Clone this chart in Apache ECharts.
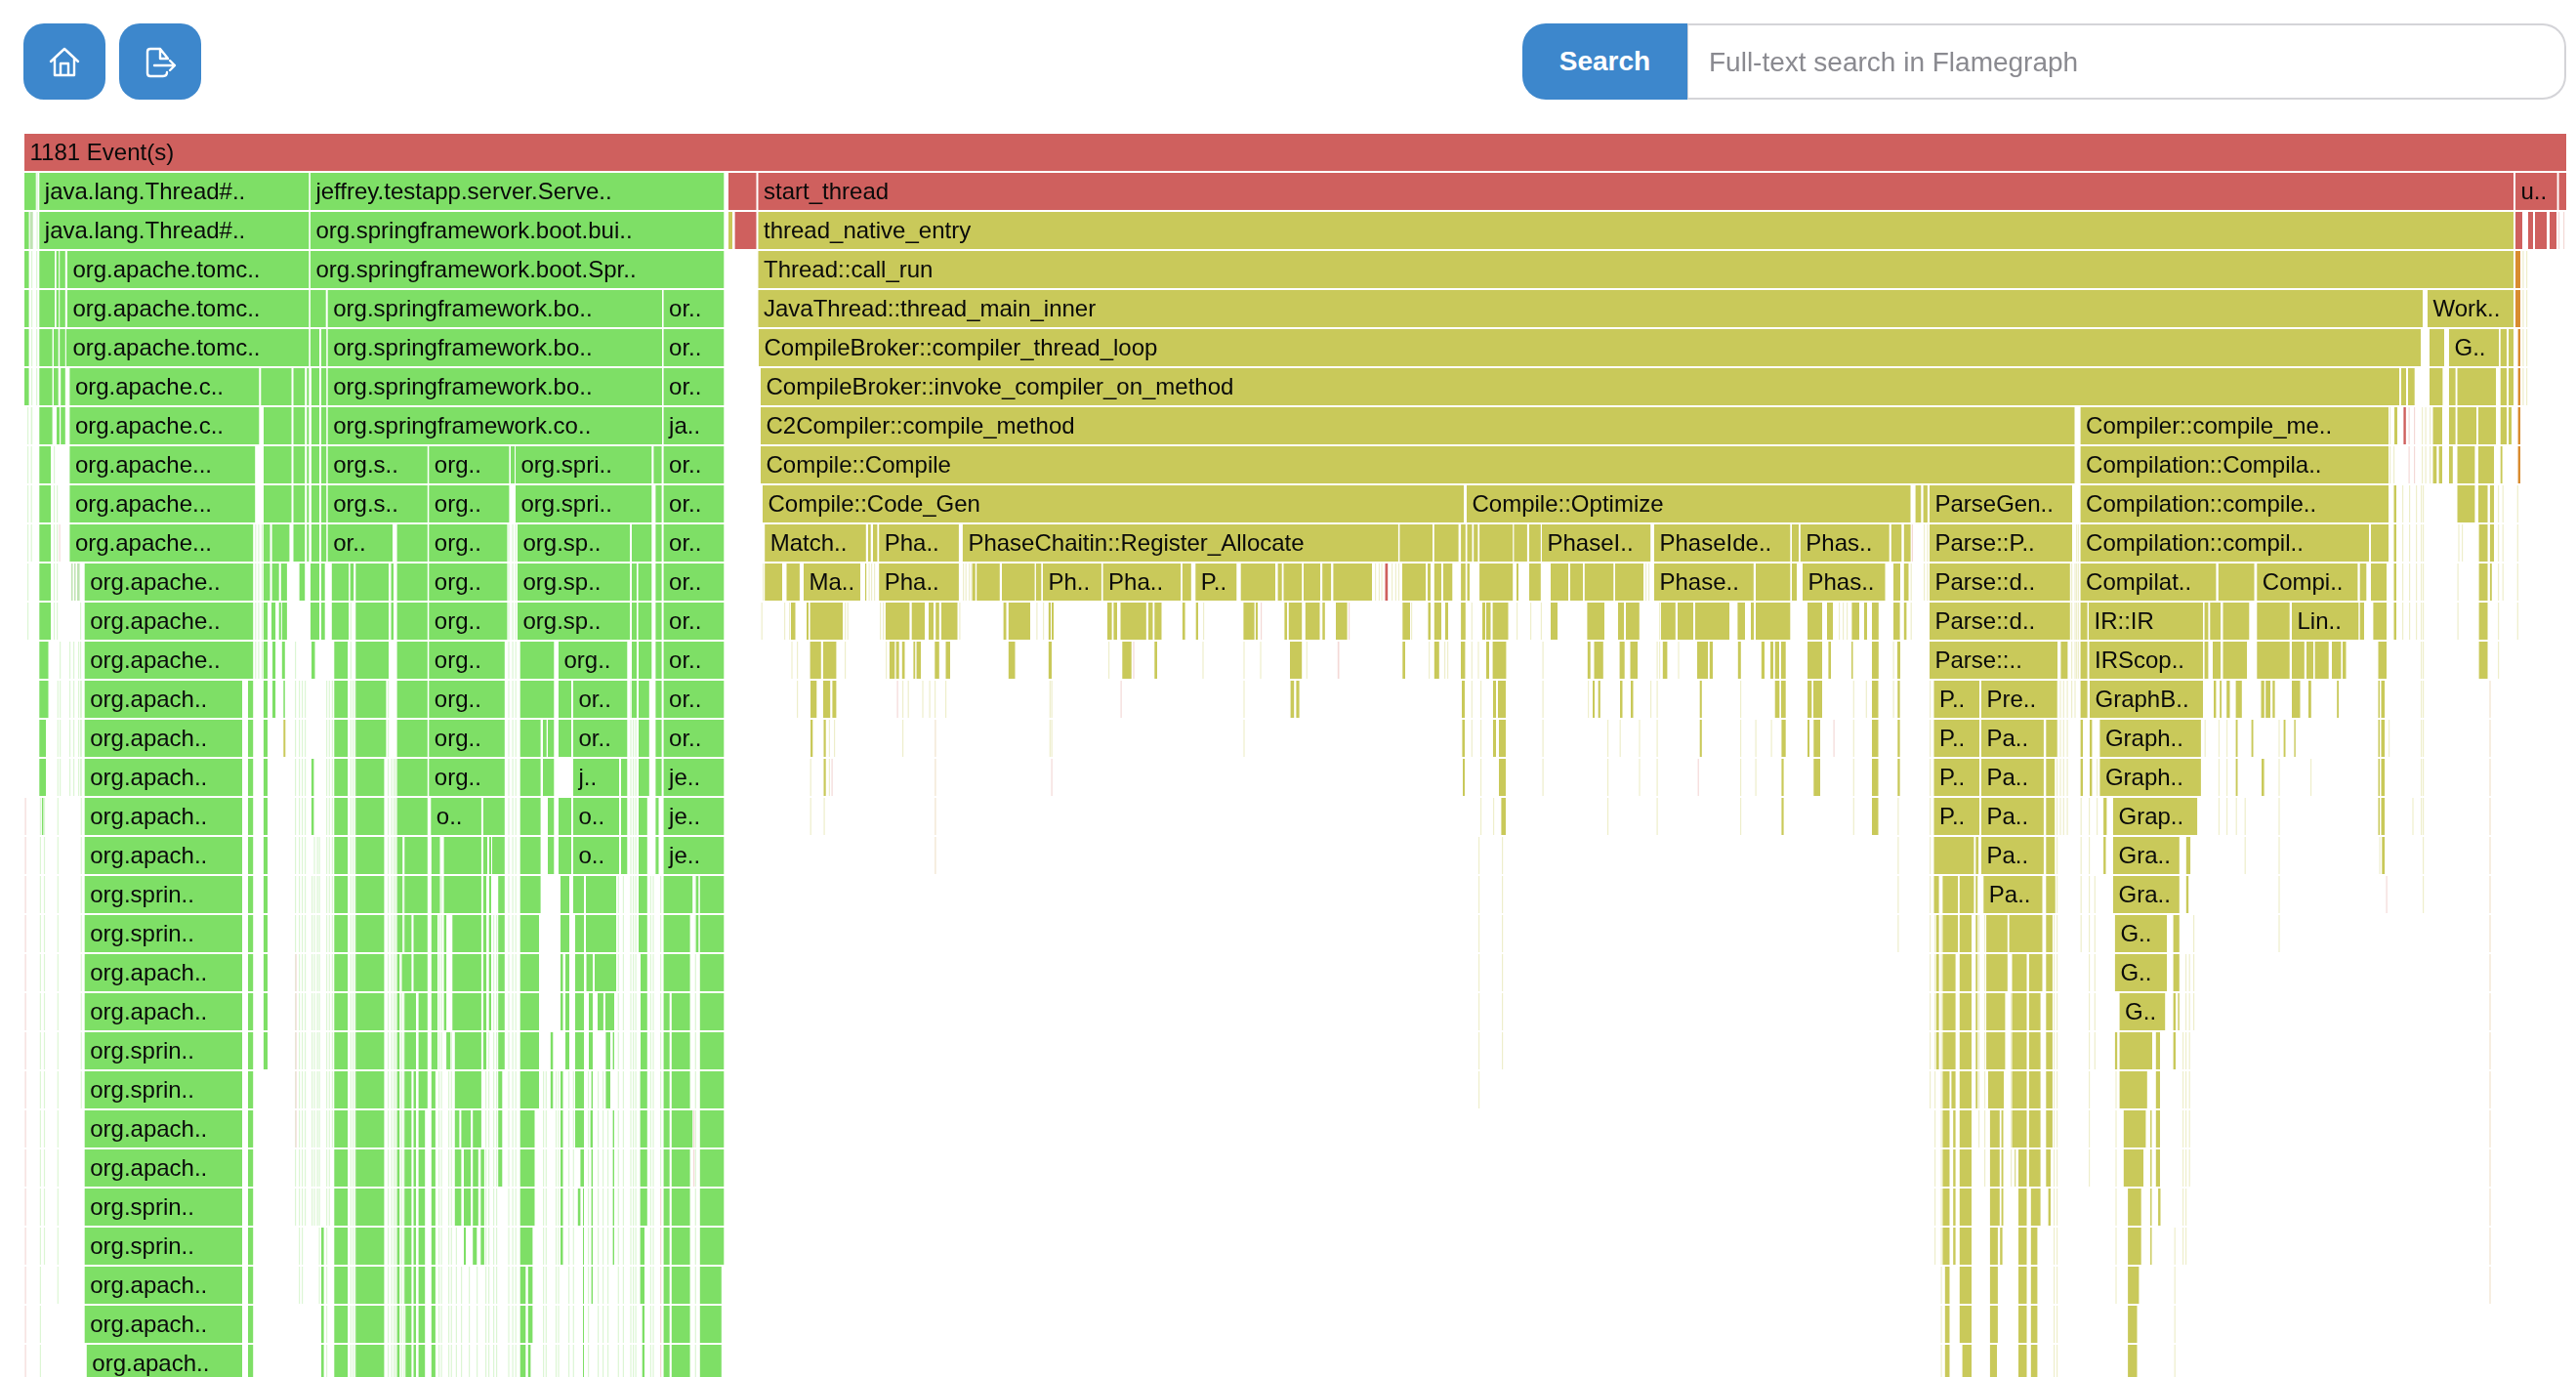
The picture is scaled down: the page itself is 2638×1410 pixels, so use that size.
<!DOCTYPE html>
<html>
<head>
<meta charset="utf-8">
<title>Flamegraph</title>
<script src="https://cdn.jsdelivr.net/npm/echarts@6/dist/echarts.min.js"></script>
<style>
    html, body { margin: 0; padding: 0; background: #fff; overflow: hidden; }
    body { width: 2638px; height: 1410px; position: relative; font-family: "Liberation Sans", sans-serif; }
    #flame { position: absolute; left: 0; top: 0; width: 2638px; height: 1410px; }
    .tool { position: absolute; top: 24px; width: 84px; height: 78px; border-radius: 21px; background: #3d87cc; z-index: 2; }
    .tool svg { position: absolute; left: 24px; top: 22px; width: 36px; height: 36px; }
    #searchBtn { position: absolute; left: 1559px; top: 24px; width: 169px; height: 78px; background: #3d87cc; color: #fff;
        font-weight: bold; font-size: 28px; line-height: 78px; text-align: center; border-radius: 24px 0 0 24px; z-index: 2; }
    #searchBox { position: absolute; left: 1728px; top: 24px; height: 74px; border: 2px solid #d4d4d8; border-left-width: 1px;
        border-radius: 0 24px 24px 0; color: #8a8a90; font-size: 28px; line-height: 76px; padding-left: 21px; box-sizing: content-box; width: 876px; z-index: 2; }
</style>
</head>
<body>
<div class="tool" style="left:24px">
    <svg viewBox="0 0 36 36" fill="none" stroke="#fff" stroke-width="2.4" stroke-linejoin="round" stroke-linecap="round">
        <path d="M4 17 L18 4 L32 17 M8 14 V31 H28 V14 M14 31 V19 H22 V31"/>
    </svg>
</div>
<div class="tool" style="left:122px">
    <svg viewBox="0 0 36 36" fill="none" stroke="#fff" stroke-width="2.4" stroke-linejoin="round" stroke-linecap="round">
        <path d="M26 14 L18 4 H8 Q5 4 5 7 V29 Q5 32 8 32 H21 Q25 32 25 28 M18 4 V14 H26 M12 21 H33 M28 16 L33 21 L28 26"/>
    </svg>
</div>
<div id="searchBtn">Search</div>
<div id="searchBox">Full-text search in Flamegraph</div>
<div id="flame"></div>
<script>
// Total frame weight of the widest row. Every frame below is [start, end, start, end, ...] in this unit.
const totalWeight = 2603;
// The 32nd row is cut off by the bottom of the page
const visibleRows = 31.825;

const greenFrames = [
    [],
    [0,11.7, 15.3,291.3, 292.9,716.3],
    [0,4.6, 15.3,291.3, 292.9,716.3],
    [0,4.6, 15.3,31, 32.7,35.2, 36.2,41.8, 43.9,291.3, 292.9,716.3],
    [0,4.6, 15.3,31, 32.7,35.2, 36.2,41.8, 43.9,291.3, 292.9,308.7, 310.7,653, 654.6,716.3],
    [0,4.6, 15.3,28.6, 30,34.7, 36.2,41.8, 42.9,291.3, 292.9,302, 304,309.2, 310.7,653, 654.6,716.3],
    [0,4.6, 15.3,28.6, 30,34.7, 37.2,41.8, 46.4,240.3, 242.3,273.5, 275.5,287.2, 289.3,291.3, 293.9,302, 304,309.2, 310.7,653, 654.6,716.3],
    [15.3,28.6, 33,36, 37.2,41.8, 46.4,240.3, 245,273.5, 275.5,287.2, 289.3,291.3, 293.9,302, 304,309.2, 310.7,653, 654.6,716.3],
    [15.3,27, 46.4,236.2, 245,273.5, 275.5,287.2, 289.3,291.3, 293.9,302, 304,309.2, 310.7,412.8, 414.3,496.4, 498,502, 503,642.3, 644.4,652.6, 654.6,716.3],
    [15.3,27, 46.4,236.2, 245,273.5, 275.5,287.2, 289.3,291.3, 293.9,302, 304,309.2, 310.7,412.8, 414.3,496.4, 503,642.3, 646.4,652.6, 654.6,716.3],
    [15.3,27, 46.4,234.2, 244.9,251.5, 253.6,271.4, 275.5,287.2, 289.3,291.3, 293.9,302, 304,309.2, 310.7,377, 381.6,412.8, 414.3,494.4, 505,620, 622,642.3, 646.4,652.6, 654.6,716.3],
    [15.3,27, 61.7,234.2, 244.9,251.5, 253.6,260.7, 262.8,268.9, 281.6,287.2, 293,302, 304,307.7, 314.8,332.1, 333.7,337.2, 339.3,373, 375.5,378, 381.6,412.8, 414.3,494.4, 505,620, 622,627, 628.6,642.3, 646.4,652.6, 654.6,716.3],
    [15.3,27, 61.7,234.2, 244.9,249, 253,257.1, 260.7,262.8, 263.8,268.9, 293,302, 304,307.7, 314.8,332.1, 339.3,373, 375.5,378, 381.6,412.8, 414.3,494.4, 505,620, 622,627, 628.6,642.3, 646.4,652.6, 654.6,716.3],
    [15.3,24.5, 61.7,234.2, 244.9,249, 254,257.1, 263.8,266.8, 294,297.5, 317.3,331.1, 339.3,373, 381.6,412.8, 414.3,491.8, 507.7,542.3, 547,617.3, 622,627, 629,642.3, 646.4,652.6, 654.6,716.3],
    [15.3,24.5, 61.7,223, 229,234.2, 244.9,249, 254,257.1, 265.3,266.8, 317.3,331.1, 339.3,370.4, 381.6,412.8, 414.3,491.8, 507.7,542.3, 547,560, 562,617.3, 622,627, 629,639.8, 646.4,652.6, 654.6,716.3],
    [15.3,22, 61.7,223, 229,234.2, 244.9,249, 317.3,331.1, 339.3,370.4, 381.6,412.8, 414.3,491.8, 507.7,528.6, 531,534.7, 536,542.3, 547,560, 562,617.3, 629,639.8, 646.4,652.6, 654.6,716.3],
    [15.3,22, 61.7,223, 229,234.2, 244.9,249, 293.9,296.4, 317.3,331.1, 339.3,368.4, 381.6,412.8, 414.3,491.8, 507.7,528.6, 531,542.3, 562,609, 611,617.3, 629,639.8, 646.4,652.6, 654.6,716.3],
    [17.9,19.4, 61.7,223, 229,234.2, 244.9,249, 293.9,296.4, 317.3,331.1, 339.3,368.4, 381.6,412.8, 416.3,467.9, 469.9,491.8, 507.7,528.6, 536,542.3, 547,560, 562,609, 611,617.3, 629,637.8, 646.4,649.5, 654.6,716.3],
    [61.7,223, 229,234.2, 244.9,249, 317.3,331.1, 339.3,368.4, 381.6,387.2, 389.3,412.8, 416.8,425.5, 429.6,467.9, 469.9,474, 476,478, 479,491.8, 507.7,528.6, 536,542.3, 547,560, 562,609, 611,617.3, 629,637.8, 646.4,649.5, 654.6,716.3],
    [61.7,223, 229,234.2, 244.9,249, 317.3,331.1, 339.3,368.4, 381.6,387.2, 389.3,412.8, 416.8,425.5, 429.6,467.9, 469.9,473, 476,478, 485.2,491.8, 507.7,528.6, 549,558, 562,573, 575,606, 629,637.8, 654.6,684.2, 687.8,690.3, 691.8,716.3],
    [61.7,223, 229,234.2, 244.9,249, 317.3,331.1, 339.3,368.4, 381.6,387.2, 389.3,396.4, 398.5,412.8, 416.8,423, 429.6,432.1, 438.3,467.9, 469.9,473, 476,478, 485.2,491.8, 507.7,527, 549,558, 564,573, 575,606, 629,637.8, 654.6,681.6, 687.8,690.3, 691.8,716.3],
    [61.7,223, 229,234.2, 244.9,249, 317.3,331.1, 339.3,368.4, 381.6,384.2, 386.7,396.4, 398.5,412.8, 416.8,423, 429.6,432.1, 438.3,467.9, 469.9,473, 476,478, 485.2,491.8, 507.7,527, 549,551.5, 554,558, 564,573, 575.5,582, 584,606, 631,637.8, 654.6,681.6, 691.8,716.3],
    [61.7,223, 229,234.2, 244.9,249, 317.3,331.1, 339.3,368.4, 381.6,384.2, 389.3,401, 403.6,412.8, 416.8,423, 429.6,432.1, 438.3,467.9, 469.9,473, 476,478, 485.2,491.8, 507.7,527, 549,551.5, 554,558, 564,573, 578,582, 587,592.9, 594.9,604, 631,637.8, 654.6,660.7, 662.8,681.6, 691.8,716.3],
    [61.7,223, 229,234.2, 244.9,249, 317.3,331.1, 339.3,368.4, 381.6,384.2, 389.3,401, 403.6,412.8, 416.8,423, 432.1,436.2, 440.8,467.9, 469.9,473, 485.2,491.8, 507.7,527, 538.8,541.3, 554,558, 564,573, 578,582, 595.4,600, 602.6,604, 631,637.8, 654.6,660.7, 662.8,681.6, 691.8,716.3],
    [61.7,223, 229,234.2, 317.3,331.1, 339.3,368.4, 381.6,384.2, 389.3,396.4, 398.5,401, 403.6,412.8, 416.8,420.9, 440.8,467.9, 485.2,489.3, 507.7,527, 538.8,541.3, 549,551.5, 564,573, 580.6,582, 595.4,600, 630.6,637.8, 654.6,660.7, 662.8,681.6, 691.8,716.3],
    [61.7,223, 229,234.2, 317.3,331.1, 339.3,368.4, 381.6,384.2, 389.3,396.4, 398.5,401, 403.6,410.2, 416.8,420.9, 440.8,445.4, 447.4,457.1, 459.2,467.9, 485.2,489.3, 507.7,522.5, 549,551.5, 564,573, 579.6,582, 602.6,604, 630.6,637.8, 654.6,660.7, 662.8,684.2, 691.8,716.3],
    [61.7,223, 229,234.2, 317.3,331.1, 339.3,368.4, 381.6,384.2, 389.3,396.4, 398.5,401, 403.6,410.2, 416.8,420.9, 440.8,447.4, 450,457.1, 459.2,464.8, 467.3,470.9, 485.2,489.3, 507.7,522.5, 549,551.5, 569.4,573, 580.6,582, 602.6,604, 630.6,637.8, 654.6,660.7, 662.8,681.6, 691.8,716.3],
    [61.7,223, 229,234.2, 317.3,331.1, 339.3,368.4, 381.6,384.2, 389.3,396.4, 398.5,401, 403.6,410.2, 416.8,420.9, 440.8,447.4, 450,457.1, 459.2,464.8, 467.3,470.9, 507.7,522.5, 549,551.5, 566.8,569.4, 572,573, 580.6,582, 602.6,604, 630.6,637.8, 654.6,660.7, 662.8,681.6, 691.8,716.3],
    [61.7,223, 229,234.2, 304,306.6, 317.3,331.1, 339.3,368.4, 381.6,384.2, 389.3,396.4, 398.5,401, 403.6,410.2, 416.8,420.9, 450,452, 459.2,463.3, 467.3,470.9, 507.7,520.4, 549,551.5, 572,573, 580.6,582, 602.6,604, 630.6,635, 654.6,660.7, 662.8,681.6, 691.8,716.3],
    [61.7,223, 229,234.2, 304,306.6, 317.3,331.1, 339.3,368.4, 381.6,384.2, 389.3,396.4, 398.5,401, 403.6,410.2, 416.8,420.9, 507.7,513.3, 515.8,520.4, 572,573, 580.6,582, 630.6,635, 654.6,660.7, 662.8,681.6, 691.8,713.8],
    [61.7,223, 229,234.2, 304,306.6, 317.3,331.1, 339.3,368.4, 381.6,384.2, 390.3,396.4, 398.5,401, 403.6,410.2, 416.8,420.9, 507.7,513.3, 515.8,520.4, 572,573, 632.7,635, 654.6,660.7, 662.8,681.6, 691.8,713.8],
    [63.8,223, 229,234.2, 304,306.6, 317.3,331.1, 339.3,368.4, 381.6,384.2, 390.3,396.4, 398.5,401, 403.6,410.2, 416.8,420.9, 507.7,513.3, 515.8,518.4, 572,573, 632.7,635, 654.6,660.7, 662.8,681.6, 691.8,713.8]
];

const yellowFrames = [
    [],
    [],
    [721,725, 751.5,2549],
    [751.5,2549],
    [751.5,2456, 2461,2549],
    [752,2454, 2463,2478, 2483,2534, 2535.7,2542, 2544,2549],
    [754,2432, 2434,2439, 2441,2447.7, 2463,2476.4, 2483,2489.6, 2491.5,2531, 2535.7,2542, 2544,2549],
    [754,2099.5, 2105.6,2421, 2427,2430, 2466.5,2476, 2483,2489.6, 2491.5,2511, 2513,2531, 2535.7,2542, 2544,2547],
    [754,2099.5, 2105.6,2421, 2466.5,2470.3, 2472.6,2476, 2483,2486.8, 2491.5,2509.4, 2513,2529, 2535.7,2537.6],
    [756,1474, 1477,1931.5, 1936.6,1942.3, 1944.6,1948.9, 1951,2097, 2105.6,2421, 2426.5,2429, 2491.5,2509.4, 2513,2522.5, 2524.9,2529],
    [758.2,861.8, 864,866.7, 869,873.4, 875.2,956.9, 960.9,1406.9, 1408.4,1442, 1443.8,1468.6, 1471.1,1475.8, 1477.5,1482.5, 1484.2,1488.4, 1490.1,1524.2, 1525.4,1538.9, 1541,1552.8, 1554,1665.2, 1669,1808.3, 1810,1817, 1818.8,1909.7, 1911.8,1922.3, 1924.8,1931.6, 1951,2097, 2105.6,2401, 2403,2421, 2426.5,2429, 2513.6,2522.5, 2524.9,2529],
    [758.2,776, 780.5,793.9, 798,856, 861,862.2, 875.2,956.9, 970.7,973.8, 975.2,998.8, 1001,1034.6, 1035.9,1041.3, 1043,1102.9, 1104.6,1184.1, 1185.9,1194.8, 1199.3,1241.3, 1245.7,1281, 1283.6,1287.7, 1289.5,1308.2, 1310,1327, 1329.2,1338.1, 1340.4,1380, 1411,1435, 1437,1440, 1443.8,1451, 1453,1462.3, 1471.1,1475.8, 1477.5,1480, 1490.1,1524.2, 1528,1530, 1541,1552.8, 1563,1581, 1583,1596, 1597.8,1627.3, 1629,1658, 1669,1770.8, 1773,1808.3, 1810,1815, 1821,1905.5, 1914,1921, 1924.8,1929.5, 1951,2094.8, 2105.6,2244.4, 2246.8,2283.5, 2286.3,2389.4, 2391.7,2398.3, 2403,2419, 2426.5,2429, 2513.6,2522.5, 2524.9,2526.8],
    [785,789.5, 801,803, 804.6,838, 881.9,906.4, 908.7,922, 926,931, 933.2,936.8, 939,955.5, 1002.9,1005.5, 1007.8,1030, 1048.8,1051, 1052,1054, 1109,1113.6, 1115.4,1119, 1122.5,1148.8, 1151,1155.5, 1157.3,1164.5, 1185.9,1188.6, 1199.7,1202, 1248.4,1259.6, 1260.9,1263, 1290.4,1293, 1294.8,1308.2, 1311.8,1326.5, 1329.3,1331.8, 1343,1354.6, 1411.3,1419, 1437.5,1440, 1443.8,1451, 1455,1458, 1471.1,1475.8, 1493,1496, 1497,1501.5, 1503.6,1519.5, 1563,1570, 1600.4,1618, 1632,1638, 1640,1653.8, 1676,1690.8, 1693,1709, 1711,1746, 1754.4,1762, 1768,1771, 1773,1808.3, 1826,1841, 1846,1852, 1871.4,1879, 1884,1887, 1892,1898.8, 1914,1920.6, 1924.8,1927.4, 1951,2094.8, 2105.6,2112.6, 2114,2231, 2232.6,2236.4, 2238.3,2249, 2251.5,2278.3, 2286.3,2319.7, 2322,2390.3, 2391.7,2396, 2405.4,2419, 2426.5,2429, 2513.6,2522.5],
    [804.6,815.8, 818,831.4, 885.9,891.3, 892.6,895.7, 898.8,901.5, 910.4,912.2, 913.6,918, 932.3,936.8, 943.5,948, 1007.8,1014.5, 1048.8,1052, 1124.3,1133.7, 1157.3,1160, 1296,1308.2, 1411.3,1414, 1443.8,1448.8, 1471,1475.4, 1497,1500, 1503.6,1517.4, 1600.8,1603.7, 1607.5,1616.8, 1633.6,1638.7, 1644.5,1652, 1677.8,1682.4, 1713,1724, 1725.8,1729, 1754.8,1757.8, 1778.8,1782, 1788,1791, 1792.7,1797, 1799,1803.7, 1826,1841, 1847.4,1850, 1871,1872.5, 1892,1898.8, 1918,1921, 1951,2082, 2085.4,2092.4, 2105.6,2112.6, 2114.5,2231, 2232.6,2236.4, 2241,2249, 2251.5,2276, 2286.3,2319.7, 2322,2334.8, 2337,2344, 2345.6,2359.7, 2363,2372.4, 2374,2377.5, 2410.5,2419, 2513.6,2522.5],
    [805,811.3, 818,825.2, 827.4,831.4, 1296.6,1300.2, 1302.4,1305.6, 1472,1475, 1504,1507, 1509,1517, 1606,1608, 1611.7,1613.8, 1634,1636.5, 1645,1647.5, 1715.7,1717.8, 1792.7,1797.3, 1799,1803.7, 1826,1830.3, 1832,1841, 1892,1898.5, 1918.3,1920.6, 1955.5,2002, 2004,2081.6, 2105.6,2112.6, 2115,2231, 2242,2244.4, 2248.2,2250, 2255.2,2258.5, 2264.6,2270.8, 2290.5,2293.8, 2295.2,2300, 2302.3,2304.6, 2322,2330.5, 2339,2341.8, 2368.2,2370, 2410.5,2412, 2413.5,2417.1],
    [265.3,267.3, 805,807.3, 818.5,820.7, 1472.4,1475, 1504,1507, 1510,1517, 1715.7,1717.8, 1799.4,1803.7, 1826,1828, 1832.3,1839, 1892,1898.5, 1918.3,1920.6, 1955.5,2002, 2004,2067.9, 2070.3,2081.6, 2105.6,2108, 2115,2117.4, 2125.4,2228.9, 2264.6,2266.5, 2280.6,2282.5, 2313.6,2315.5, 2324.4,2325.8, 2410.5,2412, 2413.5,2417.1],
    [818.5,820.7, 1473,1475, 1510,1517, 1799.4,1801.6, 1832.3,1839, 1892,1898.5, 1918.3,1920.6, 1955.5,2002, 2004,2067.9, 2070.3,2079.2, 2105.6,2108, 2115,2117.4, 2125.4,2228.9, 2264.6,2266.5, 2291,2293.4, 2410.5,2412, 2413.5,2417.1],
    [1512.4,1517, 1799.4,1801.6, 1892,1898.5, 1955.5,2002, 2004,2067.9, 2070.3,2079.2, 2129.1,2132.4, 2139,2225.1, 2410.5,2412, 2413.5,2417.1],
    [1955.5,1996.4, 1998.3,2001.1, 2004,2067.9, 2070.3,2079.2, 2129.1,2131.5, 2139,2206.8, 2213.8,2218.1, 2414.3,2417.1],
    [1955.5,1960.6, 1964.4,1980, 1981.8,1996.4, 1998.3,2000.2, 2006.3,2066.5, 2070.3,2079.7, 2139,2206.8, 2213.8,2216.2],
    [1957.8,1960.6, 1964.4,1980, 1981.8,1994, 1998.3,2000.2, 2009.1,2030.8, 2032.6,2066.5, 2070.3,2076.9, 2140.9,2194, 2200.6,2206.8],
    [1957.8,1960.6, 1964.4,1977.6, 1981.8,1994, 1998.3,2000.2, 2009.1,2030.8, 2035.5,2050.5, 2052.9,2066.5, 2070.3,2076.9, 2140.9,2194, 2200.6,2206.8],
    [1957.8,1960.6, 1964.4,1977.6, 1981.8,1994, 1998.3,2000.2, 2009.1,2028.4, 2035.5,2050.5, 2052.9,2064.6, 2070.3,2076.9, 2145.6,2192.2, 2200.6,2203, 2205.4,2206.8],
    [1957.8,1960.6, 1964.4,1977.6, 1981.8,1994, 1998.3,2000.2, 2009.1,2028.4, 2035.5,2050.5, 2052.9,2064.6, 2070.3,2076.9, 2140.9,2143.2, 2145.6,2179, 2182.8,2187, 2200.6,2203],
    [1964.4,1971.5, 1973.4,1977.6, 1981.8,1994, 1998.3,2000.2, 2011,2027, 2035.5,2050.5, 2052.9,2064.6, 2070.3,2076.9, 2145.6,2173.8, 2182.8,2187],
    [1964.4,1971.5, 1975.2,1977.6, 1981.8,1994, 2012.9,2022.8, 2024.6,2026.5, 2035.5,2050.5, 2052.9,2064.6, 2070.3,2076.9, 2149.8,2172.4, 2177.1,2178.5, 2182.8,2187],
    [1964.4,1971.5, 1975.2,1977.6, 1981.8,1994, 2012.9,2022.8, 2024.6,2026.5, 2038.3,2039.2, 2042,2050.5, 2052.9,2064.6, 2070.3,2075, 2149.8,2170, 2177.1,2178.5, 2182.8,2187],
    [1964.4,1971.5, 1975.2,1977.6, 1981.8,1994, 2012.9,2022.8, 2024.6,2026.5, 2042,2050.5, 2054.8,2064.6, 2072.6,2075, 2154.1,2167.7, 2177.1,2178.5, 2185.1,2187.5],
    [1964.4,1971.5, 1975.2,1977.6, 1981.8,1994, 2012.9,2020.9, 2023.2,2025.6, 2042,2050.5, 2054.8,2061.4, 2154.1,2167.7, 2177.1,2178.5],
    [1966.8,1971.5, 1981.8,1994, 2012.9,2020.9, 2042,2050.5, 2054.8,2061.4, 2154.1,2165.4],
    [1966.8,1971.5, 1981.8,1994, 2012.9,2020.9, 2042,2050.5, 2054.8,2061.4, 2154.1,2163.5],
    [1966.8,1971.5, 1984.6,1994, 2012.9,2020, 2042,2050.5, 2054.8,2061.4, 2154.1,2163.5]
];

// Only a few rows hold red, orange or muted green frames: [row, start, end]
const redFrames = [
    [0,0,2603],
    [1,721,749.5], [1,751.5,2549], [1,2551,2593.6], [1,2595.5,2603],
    [2,727.6,749.5], [2,2551,2558], [2,2564,2569], [2,2571,2583], [2,2586,2593],
    [7,2436.4,2438.8], [11,1393.5,1396.2]
];
const orangeFrames = [
    [3,2551,2556], [4,2551,2556], [5,2553.6,2556], [6,2553.6,2556], [7,2553.6,2556], [8,2553.6,2556]
];
const mutedGreenFrames = [
    [11,48,49.5], [11,51,52.5], [11,54,56.6], [2,5.6,8.7]
];

// Hairline frames too thin to read a width from: [first row, last row, position]
const paleGreenLines = [
    [1,1,12.5], [2,2,12.5], [3,7,7], [3,6,12], [7,12,3], [7,10,6.6], [8,12,30], [9,12,33],
    [13,16,36], [13,16,46], [13,16,50], [13,16,55], [12,16,57], [14,31,15.8], [14,28,19.9], [14,29,33.7], [14,24,57.7],
    [10,13,236.2], [10,13,239.3], [10,13,242.9], [13,27,277], [14,29,281], [14,29,284], [14,27,287], [19,27,294], [18,27,296.4], [18,27,299.5], [18,29,301.5], [14,31,309], [14,27,311.7], [14,25,314.8],
    [10,31,333.7], [14,31,336], [14,31,338.3], [14,31,372], [16,31,375.5], [16,31,378], [16,31,379.6], [17,31,385.7], [19,31,388.3],
    [19,31,424], [19,31,426.5], [23,31,434], [23,31,436.7], [24,31,441.8], [29,31,447], [29,31,455], [29,31,463], [20,31,472], [20,31,475], [20,31,480], [20,31,483],
    [10,31,495.4], [10,31,499.5], [10,31,502.6], [24,31,531], [24,31,533.7], [24,31,543.9], [24,31,546.4], [24,31,557], [24,31,561.7], [24,31,577], [24,31,587], [24,31,592], [24,31,597],
    [14,31,607.7], [14,31,612.8], [14,31,620.4], [14,31,623], [14,31,625.5], [19,31,640.8], [19,31,643.4], [19,31,651], [19,31,686.7]
];
const paleYellowLines = [
    [11,11,756], [12,12,754.6], [12,12,778], [12,12,783], [13,13,785.4], [13,14,791], [16,17,804.6], [17,17,818.5], [15,16,823.8], [15,15,829], [12,13,840], [12,12,842.6],
    [11,11,864.5], [11,11,867], [11,11,870], [12,12,876], [12,12,879], [13,13,882], [14,15,899], [14,14,904.6], [14,14,919.4], [14,14,926.5], [14,14,932], [14,14,943], [12,12,957.3],
    [11,11,961], [11,11,963.6], [11,11,967], [11,11,969.4], [12,12,1002], [12,12,1036.3], [12,12,1043], [14,15,1049.7], [14,15,1051.5], [13,13,1110], [13,13,1206.4], [12,12,1207],
    [13,15,1248.4], [13,13,1265.4], [13,13,1312.7], [11,11,1383], [11,11,1386.8], [11,11,1389.5], [11,11,1400], [11,11,1403.8], [11,11,1406.9],
    [12,12,1420], [13,13,1438], [13,13,1454], [13,13,1457], [12,15,1481.7], [13,13,1488.4], [14,17,1491], [18,24,1489], [17,17,1504], [18,23,1513], [12,12,1528], [12,12,1542], [12,12,1552.8], [13,16,1554.5],
    [14,14,1601], [15,17,1621], [15,15,1633.6], [15,16,1653.4], [11,11,1660], [11,11,1663], [14,14,1665], [13,17,1671.5], [12,13,1674], [13,13,1693.4], [14,17,1757], [15,16,1772.5], [15,15,1788.5],
    [12,12,1858], [12,12,1862], [12,12,1866], [14,17,1872.7], [14,14,1885.7], [13,14,1913.5], [17,20,1918.3], [11,12,1931.6], [10,11,1945], [10,11,1948.4],
    [14,24,1951], [20,28,1956], [20,31,1962.5], [20,25,2001], [20,26,2007], [22,26,2034], [19,31,2078], [14,31,2081], [14,17,2084.4], [14,17,2087.7], [14,17,2091.5], [11,14,2096], [11,14,2099.4], [10,13,2101], [10,13,2102.8],
    [17,20,2105.6], [17,26,2114], [19,23,2119.7], [16,17,2122], [24,29,2141.4], [28,31,2201.6], [23,28,2210], [21,28,2213], [21,26,2216.6], [20,22,2221], [15,15,2232.6], [15,17,2246.8], [15,17,2255], [17,17,2264.6], [17,18,2273.6], [16,16,2293], [15,20,2308.4], [16,16,2341],
    [15,15,2421], [18,18,2411.5], [7,8,2422], [8,8,2426], [7,8,2455], [7,8,2458.5], [7,8,2463], [9,12,2435], [9,12,2442], [9,12,2449], [9,17,2454], [9,19,2456], [17,17,2445.4],
    [10,10,2492.4], [10,10,2496], [11,12,2491.5], [9,13,2533], [9,11,2537.6], [9,12,2552.7], [3,6,2558.3], [3,6,2562]
];
const paleRedLines = [
    [10,10,35.5], [17,31,0.5], [21,25,277.5], [27,31,651], [25,26,685], [14,14,893.5], [14,14,1122.5], [13,13,1135.4], [16,16,1051.5], [16,16,826.5], [12,12,1266], [13,13,1344.8], [13,13,1345.3], [12,12,1356],
    [16,16,1713.6], [15,15,1852.5], [10,10,1932.8], [7,8,2441.5], [7,8,2447], [19,19,2418.5], [2,2,2595], [2,2,2600]
];
const paleOrangeLines = [
    [15,18,932.3], [14,29,2524.4]
];

// [row, frame start, text]
const frameLabels = [
    [0,0,'1181 Event(s)'],
    [1,15.3,'java.lang.Thread#..'], [1,292.9,'jeffrey.testapp.server.Serve..'], [1,751.5,'start_thread'], [1,2551,'u..'],
    [2,15.3,'java.lang.Thread#..'], [2,292.9,'org.springframework.boot.bui..'], [2,751.5,'thread_native_entry'],
    [3,43.9,'org.apache.tomc..'], [3,292.9,'org.springframework.boot.Spr..'], [3,751.5,'Thread::call_run'],
    [4,43.9,'org.apache.tomc..'], [4,310.7,'org.springframework.bo..'], [4,654.6,'or..'], [4,751.5,'JavaThread::thread_main_inner'], [4,2461,'Work..'],
    [5,43.9,'org.apache.tomc..'], [5,310.7,'org.springframework.bo..'], [5,654.6,'or..'], [5,752,'CompileBroker::compiler_thread_loop'], [5,2483,'G..'],
    [6,46.4,'org.apache.c..'], [6,310.7,'org.springframework.bo..'], [6,654.6,'or..'], [6,754,'CompileBroker::invoke_compiler_on_method'],
    [7,46.4,'org.apache.c..'], [7,310.7,'org.springframework.co..'], [7,654.6,'ja..'], [7,754,'C2Compiler::compile_method'], [7,2105.6,'Compiler::compile_me..'],
    [8,46.4,'org.apache...'], [8,310.7,'org.s..'], [8,414.3,'org..'], [8,503,'org.spri..'], [8,654.6,'or..'], [8,754,'Compile::Compile'], [8,2105.6,'Compilation::Compila..'],
    [9,46.4,'org.apache...'], [9,310.7,'org.s..'], [9,414.3,'org..'], [9,503,'org.spri..'], [9,654.6,'or..'], [9,756,'Compile::Code_Gen'], [9,1477,'Compile::Optimize'], [9,1951,'ParseGen..'], [9,2105.6,'Compilation::compile..'],
    [10,46.4,'org.apache...'], [10,310.7,'or..'], [10,414.3,'org..'], [10,505,'org.sp..'], [10,654.6,'or..'], [10,758.2,'Match..'], [10,875.2,'Pha..'], [10,960.9,'PhaseChaitin::Register_Allocate'], [10,1554,'PhaseI..'], [10,1669,'PhaseIde..'], [10,1818.8,'Phas..'], [10,1951,'Parse::P..'], [10,2105.6,'Compilation::compil..'],
    [11,61.7,'org.apache..'], [11,414.3,'org..'], [11,505,'org.sp..'], [11,654.6,'or..'], [11,798,'Ma..'], [11,875.2,'Pha..'], [11,1043,'Ph..'], [11,1104.6,'Pha..'], [11,1199.3,'P..'], [11,1669,'Phase..'], [11,1821,'Phas..'], [11,1951,'Parse::d..'], [11,2105.6,'Compilat..'], [11,2286.3,'Compi..'],
    [12,61.7,'org.apache..'], [12,414.3,'org..'], [12,505,'org.sp..'], [12,654.6,'or..'], [12,1951,'Parse::d..'], [12,2114,'IR::IR'], [12,2322,'Lin..'],
    [13,61.7,'org.apache..'], [13,414.3,'org..'], [13,547,'org..'], [13,654.6,'or..'], [13,1951,'Parse::..'], [13,2114.5,'IRScop..'],
    [14,61.7,'org.apach..'], [14,414.3,'org..'], [14,562,'or..'], [14,654.6,'or..'], [14,1955.5,'P..'], [14,2004,'Pre..'], [14,2115,'GraphB..'],
    [15,61.7,'org.apach..'], [15,414.3,'org..'], [15,562,'or..'], [15,654.6,'or..'], [15,1955.5,'P..'], [15,2004,'Pa..'], [15,2125.4,'Graph..'],
    [16,61.7,'org.apach..'], [16,414.3,'org..'], [16,562,'j..'], [16,654.6,'je..'], [16,1955.5,'P..'], [16,2004,'Pa..'], [16,2125.4,'Graph..'],
    [17,61.7,'org.apach..'], [17,416.3,'o..'], [17,562,'o..'], [17,654.6,'je..'], [17,1955.5,'P..'], [17,2004,'Pa..'], [17,2139,'Grap..'],
    [18,61.7,'org.apach..'], [18,562,'o..'], [18,654.6,'je..'], [18,2004,'Pa..'], [18,2139,'Gra..'],
    [19,61.7,'org.sprin..'], [19,2006.3,'Pa..'], [19,2139,'Gra..'],
    [20,61.7,'org.sprin..'], [20,2140.9,'G..'],
    [21,61.7,'org.apach..'], [21,2140.9,'G..'],
    [22,61.7,'org.apach..'], [22,2145.6,'G..'],
    [23,61.7,'org.sprin..'], [24,61.7,'org.sprin..'], [25,61.7,'org.apach..'], [26,61.7,'org.apach..'],
    [27,61.7,'org.sprin..'], [28,61.7,'org.sprin..'], [29,61.7,'org.apach..'], [30,61.7,'org.apach..'], [31,63.8,'org.apach..']
];

// Turn the per-row flat lists into [row, start, end] items
function flattenRows(rows) {
    const items = [];
    rows.forEach((pairs, row) => {
        for (let i = 0; i < pairs.length; i += 2) {
            items.push([row, pairs[i], pairs[i + 1]]);
        }
    });
    return items;
}

// Hairlines are drawn one row at a time so the row gaps stay visible
function expandLines(lines) {
    const items = [];
    lines.forEach(([first, last, pos]) => {
        for (let row = first; row <= last; row++) {
            items.push([row, pos, pos + 1.2]);
        }
    });
    return items;
}

function renderFrame(params, api) {
    const row = api.value(0);
    const topLeft = api.coord([api.value(1), row]);
    const bottomRight = api.coord([api.value(2), row + 1]);
    return {
        type: 'rect',
        shape: {
            x: topLeft[0],
            y: topLeft[1],
            width: bottomRight[0] - topLeft[0],
            height: bottomRight[1] - topLeft[1] - 2
        },
        style: { fill: api.visual('color') }
    };
}

function renderLabel(params, api) {
    const topLeft = api.coord([api.value(1), api.value(0)]);
    return {
        type: 'text',
        x: topLeft[0] + 5.5,
        y: topLeft[1] + 20,
        style: {
            text: frameLabels[params.dataIndex][2],
            fontFamily: '"Liberation Sans", Arial, sans-serif',
            fontSize: 24,
            fill: '#0a0a0a',
            verticalAlign: 'middle'
        }
    };
}

function frameSeries(name, items, color) {
    return {
        name: name,
        type: 'custom',
        renderItem: renderFrame,
        data: items,
        encode: { x: [1, 2], y: 0 },
        itemStyle: { color: color },
        silent: true,
        clip: true
    };
}

const chart = echarts.init(document.getElementById('flame'));
chart.setOption({
    animation: false,
    grid: { left: 25, top: 137, width: 2603, height: 1273 },
    xAxis: { type: 'value', min: 0, max: totalWeight, show: false },
    yAxis: { type: 'value', min: 0, max: visibleRows, inverse: true, show: false },
    tooltip: { show: false },
    series: [
        frameSeries('pale green', expandLines(paleGreenLines), '#dcf6d4'),
        frameSeries('pale yellow', expandLines(paleYellowLines), '#eeeecb'),
        frameSeries('pale red', expandLines(paleRedLines), '#f4d9d7'),
        frameSeries('pale orange', expandLines(paleOrangeLines), '#f1e3cd'),
        frameSeries('muted green', mutedGreenFrames, '#bfe3b2'),
        frameSeries('green', flattenRows(greenFrames), '#7edf66'),
        frameSeries('yellow', flattenRows(yellowFrames), '#c9c95a'),
        frameSeries('red', redFrames, '#cf605e'),
        frameSeries('orange', orangeFrames, '#d98c30'),
        {
            name: 'labels',
            type: 'custom',
            renderItem: renderLabel,
            data: frameLabels.map(item => [item[0], item[1]]),
            encode: { x: 1, y: 0 },
            silent: true,
            clip: false,
            z: 5
        }
    ]
});
</script>
</body>
</html>
